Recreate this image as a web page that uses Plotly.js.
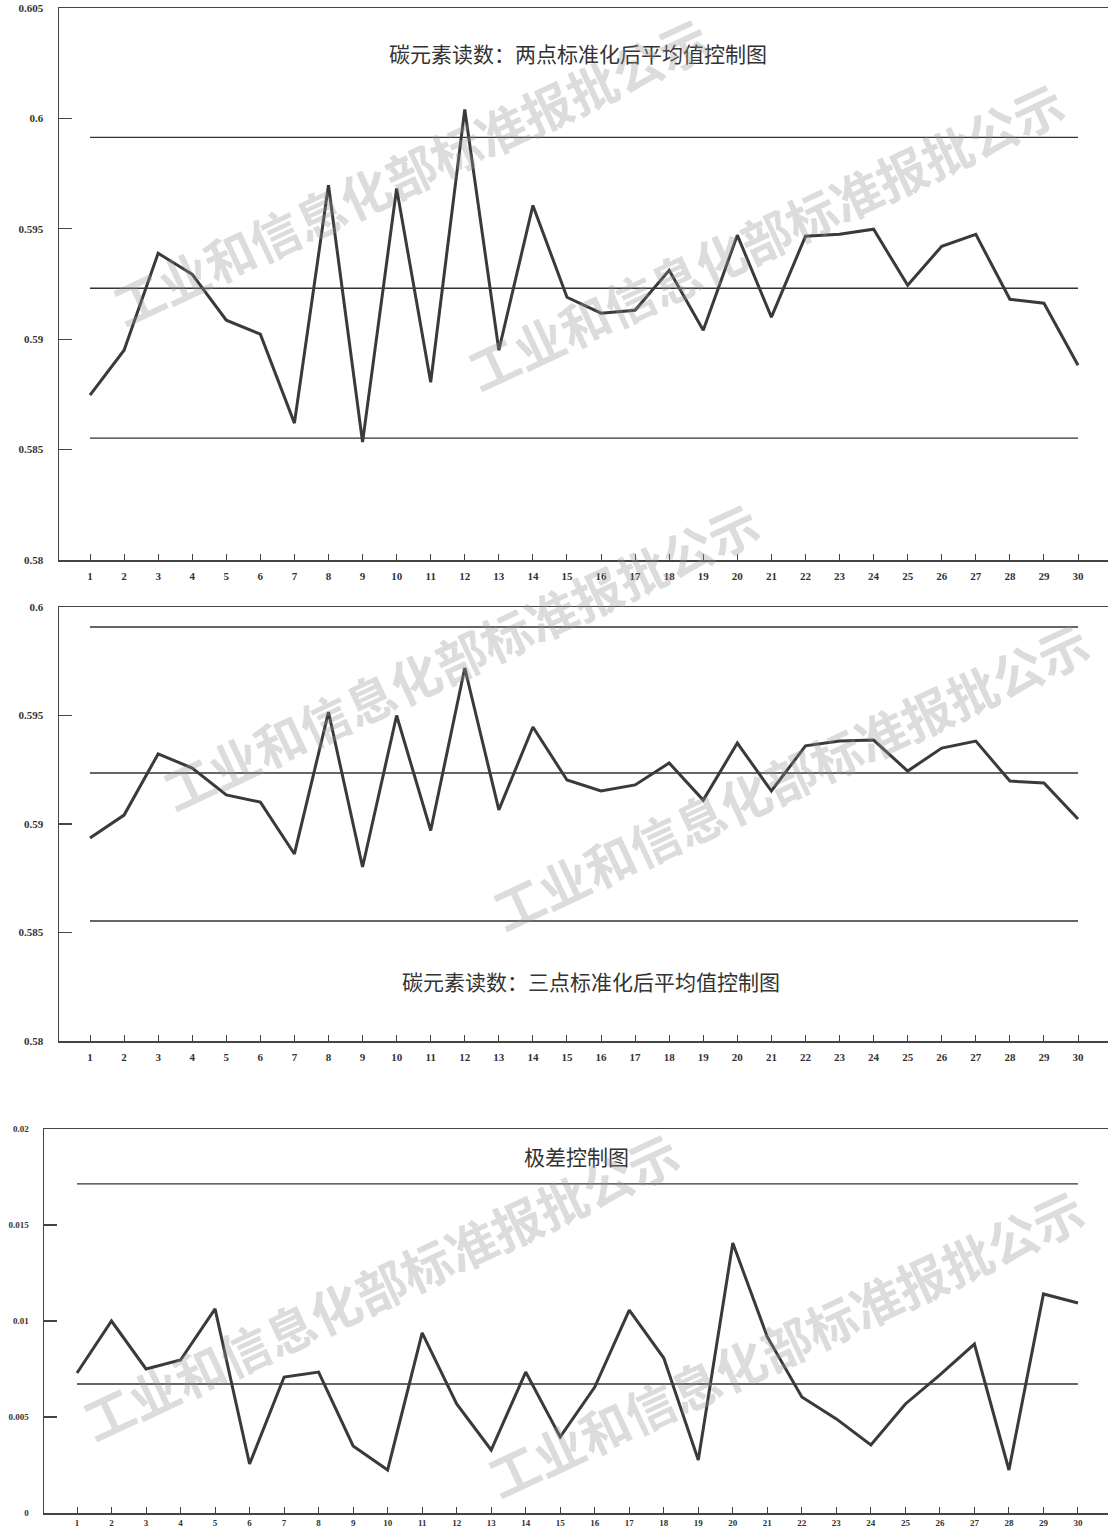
<!DOCTYPE html>
<html>
<head>
<meta charset="utf-8">
<script src="https://cdn.plot.ly/plotly-3.0.1.min.js"></script>
<style>html,body{margin:0;padding:0;background:#fff;}#chart{width:1108px;height:1528px;}</style>
</head>
<body>
<div id="chart"></div>
<script>
// ---------- data ----------
const samples = Array.from({length: 30}, (_, i) => i + 1);

const title1 = "碳元素读数：两点标准化后平均值控制图";
const mean2pt = [0.58747, 0.5895, 0.59389, 0.59294, 0.59086, 0.59023, 0.5862, 0.59697, 0.58534, 0.59683,
                 0.58805, 0.60041, 0.5895, 0.59606, 0.5919, 0.59118, 0.59131, 0.59312, 0.59041, 0.59471,
                 0.591, 0.59466, 0.59475, 0.59498, 0.59244, 0.59421, 0.59475, 0.59181, 0.59163, 0.58882];
const limits2pt = {ucl: 0.59914, cl: 0.59231, lcl: 0.58552};

const title2 = "碳元素读数：三点标准化后平均值控制图";
const mean3pt = [0.58935, 0.59041, 0.59323, 0.59258, 0.59134, 0.59101, 0.58862, 0.59516, 0.58802, 0.595,
                 0.5897, 0.59719, 0.59065, 0.59447, 0.59203, 0.59152, 0.5918, 0.59281, 0.5911, 0.59373,
                 0.59152, 0.5936, 0.59382, 0.59387, 0.59244, 0.5935, 0.59382, 0.59198, 0.59189, 0.59023];
const limits3pt = {ucl: 0.59908, cl: 0.59235, lcl: 0.58553};

const title3 = "极差控制图";
const ranges = [0.00729, 0.01, 0.0075, 0.00797, 0.01063, 0.00255, 0.00708, 0.00734, 0.00349, 0.00224,
                0.00938, 0.00568, 0.00328, 0.00734, 0.00396, 0.00656, 0.01057, 0.00807, 0.00276, 0.01406,
                0.00917, 0.00604, 0.0049, 0.00354, 0.00568, 0.00719, 0.0088, 0.00224, 0.01141, 0.01094];
const limitsR = {ucl: 0.01714, cl: 0.00672};

const yTicks1 = [0.58, 0.585, 0.59, 0.595, 0.6, 0.605];
const yTickText1 = ["0.58", "0.585", "0.59", "0.595", "0.6", "0.605"];
const yTicks2 = [0.58, 0.585, 0.59, 0.595, 0.6];
const yTickText2 = ["0.58", "0.585", "0.59", "0.595", "0.6"];
const yTicks3 = [0, 0.005, 0.01, 0.015, 0.02];
const yTickText3 = ["0", "0.005", "0.01", "0.015", "0.02"];

const watermarkText = "工业和信息化部标准报批公示";

// ---------- chart ----------
const W = 1108, H = 1528;
const px = x => x / W;
const py = y => 1 - y / H;

const dataColor = '#3a3a3a';
const limitColor = '#333';

function limitTrace(v, xa, ya) {
  return {x: [samples[0], samples[samples.length - 1]], y: [v, v], xaxis: xa, yaxis: ya,
          mode: 'lines', line: {color: limitColor, width: 1.4}, hoverinfo: 'skip', showlegend: false};
}
function dataTrace(vals, xa, ya) {
  return {x: samples, y: vals, xaxis: xa, yaxis: ya, mode: 'lines',
          line: {color: dataColor, width: 3}, showlegend: false};
}

const traces = [
  limitTrace(limits2pt.ucl, 'x', 'y'), limitTrace(limits2pt.cl, 'x', 'y'), limitTrace(limits2pt.lcl, 'x', 'y'),
  dataTrace(mean2pt, 'x', 'y'),
  limitTrace(limits3pt.ucl, 'x2', 'y2'), limitTrace(limits3pt.cl, 'x2', 'y2'), limitTrace(limits3pt.lcl, 'x2', 'y2'),
  dataTrace(mean3pt, 'x2', 'y2'),
  limitTrace(limitsR.ucl, 'x3', 'y3'), limitTrace(limitsR.cl, 'x3', 'y3'),
  dataTrace(ranges, 'x3', 'y3')
];

const tickFont = {family: 'Liberation Serif, serif', size: 11, color: '#333', weight: 'bold'};
const tickFontSmall = {family: 'Liberation Serif, serif', size: 9, color: '#333', weight: 'bold'};

function xAxis(domain, range, anchor, font, standoff) {
  return {domain: domain, range: range, anchor: anchor, tickmode: 'array', tickvals: samples,
          ticktext: samples.map(String), ticks: 'inside', ticklen: 6, tickwidth: 1, tickcolor: '#444',
          showline: true, linecolor: '#444', linewidth: 1.5, mirror: true, showgrid: false, zeroline: false,
          tickfont: font, ticklabelstandoff: standoff};
}
function yAxis(domain, range, anchor, vals, text, font) {
  return {domain: domain, range: range, anchor: anchor, tickmode: 'array', tickvals: vals, ticktext: text,
          ticks: 'inside', ticklen: 13, tickwidth: 1.2, tickcolor: '#444',
          showline: true, linecolor: '#444', linewidth: 1.5, showgrid: false, zeroline: false,
          tickfont: font, ticklabelstandoff: 12};
}

const titleFont = {family: 'Noto Sans CJK SC', size: 21, color: '#333'};
const annotations = [
  {text: title1, x: px(578), y: py(53), xref: 'paper', yref: 'paper', showarrow: false,
   xanchor: 'center', yanchor: 'middle', font: titleFont},
  {text: title2, x: px(591), y: py(981), xref: 'paper', yref: 'paper', showarrow: false,
   xanchor: 'center', yanchor: 'middle', font: titleFont},
  {text: title3, x: px(576), y: py(1156), xref: 'paper', yref: 'paper', showarrow: false,
   xanchor: 'center', yanchor: 'middle', font: titleFont}
];

const wmCenters = [[410, 170], [765, 235], [460, 655], [790, 775], [380, 1285], [785, 1342]];
wmCenters.forEach(c => {
  annotations.push({text: watermarkText, x: px(c[0]), y: py(c[1]), xref: 'paper', yref: 'paper',
    showarrow: false, textangle: -25, xanchor: 'center', yanchor: 'middle',
    font: {family: 'Noto Sans CJK SC', size: 50, weight: 'bold', color: 'rgba(150,150,150,0.33)'}});
});

const layout = {
  width: W, height: H,
  margin: {l: 0, r: 0, t: 0, b: 0},
  paper_bgcolor: '#fff', plot_bgcolor: '#fff',
  showlegend: false,
  xaxis: xAxis([59 / W, 1], [0.09, 30.88], 'y', tickFont, 5),
  yaxis: yAxis([py(560), py(8)], [0.58, 0.605], 'x', yTicks1, yTickText1, tickFont),
  xaxis2: xAxis([59 / W, 1], [0.09, 30.88], 'y2', tickFont, 5),
  yaxis2: yAxis([py(1041), py(607)], [0.58, 0.6], 'x2', yTicks2, yTickText2, tickFont),
  xaxis3: xAxis([44 / W, 1], [0.044, 30.87], 'y3', tickFontSmall, 1),
  yaxis3: yAxis([py(1513), py(1129)], [0, 0.02], 'x3', yTicks3, yTickText3, tickFontSmall),
  annotations: annotations
};

Plotly.newPlot('chart', traces, layout, {staticPlot: true, displayModeBar: false});
</script>
</body>
</html>
